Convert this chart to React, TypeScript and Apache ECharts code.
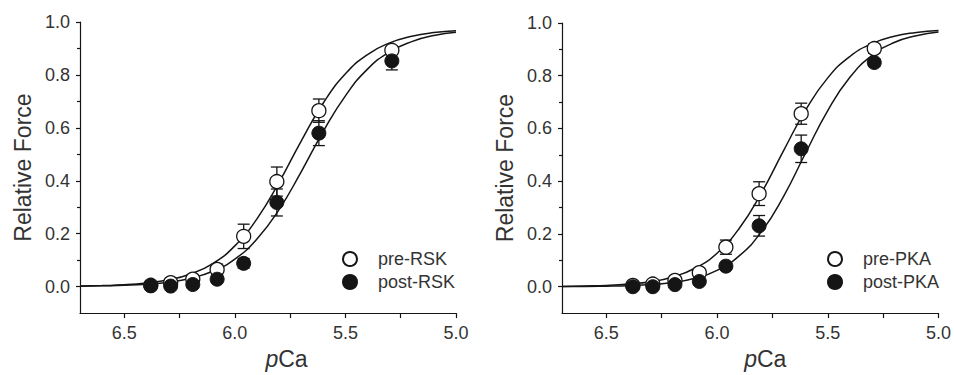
import React, { useEffect, useRef } from "react";
import * as echarts from "echarts";

// measured pCa of data points
const pcaPts = [6.38, 6.29, 6.19, 6.08, 5.96, 5.81, 5.62, 5.29];

// RSK panel
const preRSK = [0.005, 0.015, 0.028, 0.065, 0.19, 0.397, 0.665, 0.893];
const preRSKErr = [0, 0.005, 0.008, 0.02, 0.046, 0.055, 0.044, 0.015];
const postRSK = [0.003, 0.002, 0.008, 0.028, 0.088, 0.318, 0.58, 0.853];
const postRSKErr = [0, 0, 0, 0.01, 0.018, 0.051, 0.047, 0.034];

// PKA panel
const prePKA = [0.005, 0.01, 0.024, 0.053, 0.15, 0.353, 0.656, 0.903];
const prePKAErr = [0, 0, 0.006, 0.012, 0.027, 0.045, 0.04, 0.018];
const postPKA = [0.0, 0.0, 0.008, 0.02, 0.078, 0.231, 0.523, 0.85];
const postPKAErr = [0, 0, 0, 0.008, 0.012, 0.039, 0.052, 0.015];

// fitted curves
const fitPca = [6.7, 6.6, 6.5, 6.4, 6.3, 6.2, 6.1, 6.0, 5.9, 5.8, 5.7, 5.6, 5.5, 5.4, 5.3, 5.2, 5.1, 5.0];
const fitPreRSK = [0.002, 0.004, 0.007, 0.014, 0.026, 0.048, 0.087, 0.154, 0.256, 0.394, 0.55, 0.694, 0.804, 0.877, 0.921, 0.946, 0.96, 0.967];
const fitPostRSK = [0.001, 0.003, 0.005, 0.009, 0.017, 0.032, 0.058, 0.104, 0.18, 0.291, 0.434, 0.587, 0.721, 0.822, 0.887, 0.926, 0.949, 0.961];
const fitPrePKA = [0.001, 0.003, 0.005, 0.01, 0.019, 0.037, 0.07, 0.127, 0.221, 0.355, 0.515, 0.67, 0.792, 0.873, 0.922, 0.95, 0.964, 0.972];
const fitPostPKA = [0.001, 0.001, 0.002, 0.004, 0.008, 0.016, 0.032, 0.062, 0.117, 0.208, 0.342, 0.507, 0.668, 0.794, 0.877, 0.926, 0.952, 0.966];

const xTickVals = [5.0, 5.25, 5.5, 5.75, 6.0, 6.25, 6.5];
const xLabelVals = [5.0, 5.5, 6.0, 6.5];
const yLabelVals = [0.0, 0.2, 0.4, 0.6, 0.8, 1.0];
const yMinorVals = [0.1, 0.3, 0.5, 0.7, 0.9];

const INK = "#151515";
const TXT = "#333333";
const FONT = "Liberation Sans, Arial, sans-serif";

const pairs = (xs: number[], ys: number[]) => xs.map((x, i) => [x, ys[i]]);
const errData = (xs: number[], ys: number[], es: number[]) =>
  xs.map((x, i) => [x, ys[i] - es[i], ys[i] + es[i], es[i]]).filter((d) => d[3] > 0);

const renderErr = (params: any, api: any) => {
  const x = api.value(0);
  const lo = api.coord([x, api.value(1)]);
  const hi = api.coord([x, api.value(2)]);
  const cw = 6;
  const st = { stroke: INK, lineWidth: 1.3 };
  return {
    type: "group",
    children: [
      { type: "line", shape: { x1: lo[0], y1: lo[1], x2: hi[0], y2: hi[1] }, style: st },
      { type: "line", shape: { x1: hi[0] - cw, y1: hi[1], x2: hi[0] + cw, y2: hi[1] }, style: st },
      { type: "line", shape: { x1: lo[0] - cw, y1: lo[1], x2: lo[0] + cw, y2: lo[1] }, style: st },
    ],
  };
};

function xAxisFor(gridIndex: number, shift: number) {
  return {
    type: "value",
    gridIndex,
    min: 5.0,
    max: 6.7,
    inverse: true,
    name: "{i|p}Ca",
    nameLocation: "middle",
    nameGap: 18,
    nameTextStyle: {
      fontSize: 23,
      color: TXT,
      fontFamily: FONT,
      padding: [0, 0, 0, shift],
      rich: { i: { fontStyle: "italic", fontSize: 23, color: TXT, fontFamily: FONT } },
    },
    axisLine: { onZero: false, lineStyle: { color: INK, width: 1.2 } },
    axisTick: { show: true, length: 5, customValues: xTickVals, lineStyle: { color: INK, width: 1.2 } },
    axisLabel: {
      customValues: xLabelVals,
      formatter: (v: number) => v.toFixed(1),
      fontSize: 18,
      color: TXT,
      fontFamily: FONT,
      margin: 11,
    },
    splitLine: { show: false },
  };
}

function yAxesFor(gridIndex: number) {
  return [
    {
      type: "value",
      gridIndex,
      min: -0.1,
      max: 1.0,
      name: "Relative Force",
      nameLocation: "middle",
      nameGap: 46,
      nameTextStyle: { fontSize: 23, color: TXT, fontFamily: FONT, padding: [0, 0, 0, 0] },
      axisLine: { show: true, onZero: false, lineStyle: { color: INK, width: 1.2 } },
      axisTick: { show: true, length: 4, customValues: yLabelVals, lineStyle: { color: INK, width: 1.2 } },
      axisLabel: {
        customValues: yLabelVals,
        formatter: (v: number) => v.toFixed(1),
        fontSize: 18,
        color: TXT,
        fontFamily: FONT,
        margin: 10,
      },
      splitLine: { show: false },
    },
    {
      type: "value",
      gridIndex,
      min: -0.1,
      max: 1.0,
      position: "left",
      axisLine: { show: false, onZero: false },
      axisTick: { show: true, length: 3, customValues: yMinorVals, lineStyle: { color: INK, width: 1.2 } },
      axisLabel: { show: false },
      splitLine: { show: false },
    },
  ];
}

function panelSeries(
  xi: number,
  yi: number,
  preName: string,
  postName: string,
  pre: number[],
  preErr: number[],
  post: number[],
  postErr: number[],
  fitPre: number[],
  fitPost: number[]
) {
  const common = { xAxisIndex: xi, yAxisIndex: yi };
  return [
    { ...common, type: "line", name: preName + " fit", data: pairs(fitPca, fitPre), smooth: true, showSymbol: false, silent: true, lineStyle: { color: INK, width: 1.5 }, z: 1 },
    { ...common, type: "line", name: postName + " fit", data: pairs(fitPca, fitPost), smooth: true, showSymbol: false, silent: true, lineStyle: { color: INK, width: 1.5 }, z: 1 },
    { ...common, type: "custom", name: preName + " err", data: errData(pcaPts, pre, preErr), renderItem: renderErr, z: 2 },
    { ...common, type: "custom", name: postName + " err", data: errData(pcaPts, post, postErr), renderItem: renderErr, z: 2 },
    { ...common, type: "scatter", name: preName, data: pairs(pcaPts, pre), symbol: "circle", symbolSize: 14, itemStyle: { color: "#ffffff", borderColor: INK, borderWidth: 1.3, opacity: 1 }, z: 3 },
    { ...common, type: "scatter", name: postName, data: pairs(pcaPts, post), symbol: "circle", symbolSize: 14, itemStyle: { color: INK, borderColor: INK, borderWidth: 1, opacity: 1 }, z: 4 },
  ];
}

function legendFor(left: number, names: string[]) {
  return {
    orient: "vertical",
    left,
    top: 245,
    itemWidth: 14,
    itemHeight: 14,
    itemGap: 5,
    selectedMode: false,
    textStyle: { fontSize: 18, color: TXT, fontFamily: FONT, lineHeight: 18, padding: [0, 0, 0, 16] },
    data: [
      { name: names[0], icon: "circle", itemStyle: { opacity: 1 } },
      { name: names[1], icon: "circle", itemStyle: { opacity: 1 } },
    ],
  };
}

export default function App() {
  const ref = useRef<HTMLDivElement>(null);
  useEffect(() => {
    if (!ref.current) return;
    const chart = echarts.init(ref.current, undefined, { renderer: "svg" });
    chart.setOption({
      animation: false,
      backgroundColor: "#ffffff",
      textStyle: { fontFamily: FONT },
      grid: [
        { left: 80, top: 22, width: 376, height: 302 },
        { left: 562, top: 23, width: 379, height: 306 },
      ],
      xAxis: [xAxisFor(0, 37), xAxisFor(1, 30)],
      yAxis: [...yAxesFor(0), ...yAxesFor(1)],
      legend: [legendFor(337, ["pre-RSK", "post-RSK"]), legendFor(822, ["pre-PKA", "post-PKA"])],
      series: [
        ...panelSeries(0, 0, "pre-RSK", "post-RSK", preRSK, preRSKErr, postRSK, postRSKErr, fitPreRSK, fitPostRSK),
        ...panelSeries(1, 2, "pre-PKA", "post-PKA", prePKA, prePKAErr, postPKA, postPKAErr, fitPrePKA, fitPostPKA),
      ],
    });
    return () => chart.dispose();
  }, []);
  return (
    <div
      ref={ref}
      style={{ position: "fixed", left: 0, top: 0, width: 954, height: 375, background: "#fff" }}
    />
  );
}
